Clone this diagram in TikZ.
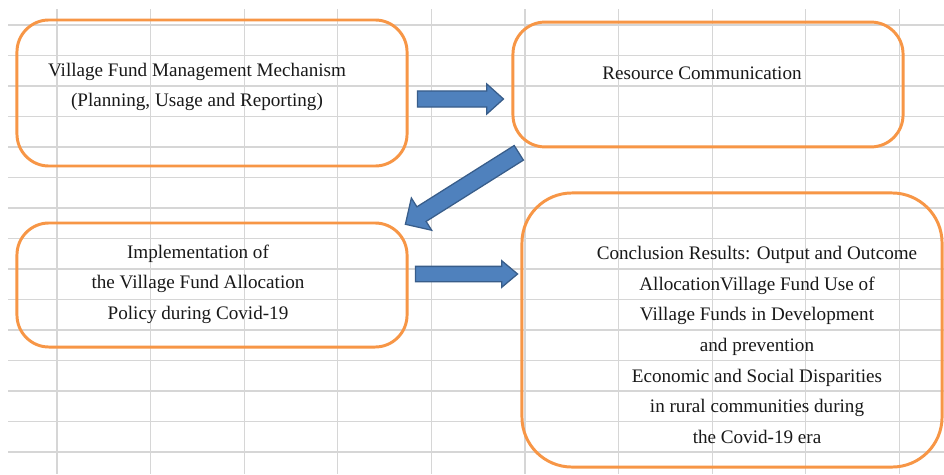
\documentclass[tikz,border=0pt]{standalone}
\usepackage{fontspec}
\setmainfont{Liberation Serif}
\usetikzlibrary{shapes.arrows}

\definecolor{boxorange}{HTML}{F79646}
\definecolor{arrowblue}{HTML}{4F81BD}
\definecolor{arrowedge}{HTML}{385D8A}
\definecolor{cellline}{HTML}{D6D6D6}

\tikzset{
  stagebox/.style={draw=boxorange, line width=2.1pt, rounded corners=0.8cm, inner sep=0pt},
  stagetext/.style={align=center, inner sep=0pt, text=black!90,
    font=\fontsize{13.6}{21.8}\selectfont},
  flowarrow/.style={single arrow, draw=arrowedge, fill=arrowblue, line width=0.9pt,
    inner xsep=0pt, midway, sloped, allow upside down}
}

\begin{document}
\begin{tikzpicture}[x=0.025cm, y=-0.025cm]
  \fill[white] (0,0) rectangle (944,474);
  \useasboundingbox (0,0) rectangle (944,474);
  % sheet grid behind the chart
  \foreach \k in {0,...,14} \draw[cellline, line width=0.8pt] (8,25+30.5*\k) -- (944,25+30.5*\k);
  \foreach \k in {0,...,9} \draw[cellline, line width=0.8pt] (57+93.6*\k,9) -- (57+93.6*\k,474);

  % stages
  \node[stagebox, minimum width=9.75cm, minimum height=3.65cm] (mech) at (212,93) {};
  \node[stagetext] (mechtext) at (197,87) {Village Fund Management Mechanism\\(Planning, Usage and Reporting)};
  \node[stagebox, minimum width=9.75cm, minimum height=3.12cm] (comm) at (708,84.5) {};
  \node[stagetext] (commtext) at (702,73) {Resource Communication};
  \node[stagebox, minimum width=9.75cm, minimum height=3.1cm] (impl) at (212,285) {};
  \node[stagetext] (impltext) at (198,284) {Implementation of\\the Village Fund Allocation\\Policy during Covid-19};
  \node[stagebox, rounded corners=1.25cm, minimum width=10.5cm, minimum height=6.85cm] (concl) at (732,330) {};
  \node[stagetext] (concltext) at (757,345) {Conclusion Results: Output and Outcome\\AllocationVillage Fund Use of\\Village Funds in Development\\and prevention\\Economic and Social Disparities\\in rural communities during\\the Covid-19 era};

  % block arrows between the stages
  \coordinate (a1s) at (413,99); \coordinate (a1e) at (499,99);
  \coordinate (a2s) at (411,274); \coordinate (a2e) at (513,274);
  \coordinate (a3s) at (522.5,150.5); \coordinate (a3e) at (409,222);
  \path (a1s) -- (a1e) node[flowarrow, minimum height=2.15cm, inner ysep=0.185cm,
    single arrow head extend=0.175cm, single arrow tip angle=84] (arr1) {};
  \path (a2s) -- (a2e) node[flowarrow, minimum height=2.55cm, inner ysep=0.175cm,
    single arrow head extend=0.14cm, single arrow tip angle=80] (arr2) {};
  \path (a3s) -- (a3e) node[flowarrow, minimum height=3.35cm, inner ysep=0.2cm,
    single arrow head extend=0.26cm, single arrow tip angle=90] (arr3) {};
\end{tikzpicture}
\end{document}
